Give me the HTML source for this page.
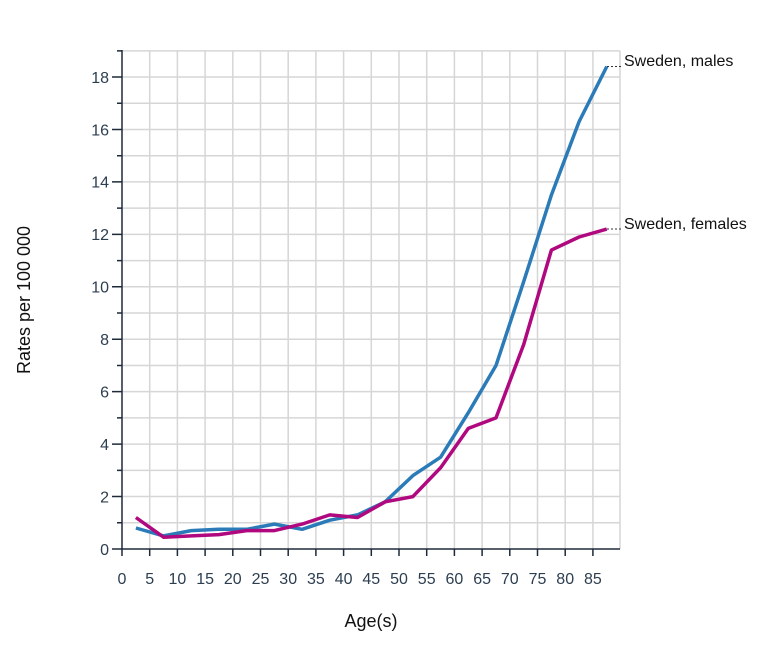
<!DOCTYPE html><html><head><style>body{margin:0;background:#fff}svg text{font-family:"Liberation Sans",sans-serif}</style></head><body>
<svg width="768" height="647" xmlns="http://www.w3.org/2000/svg">
<path stroke="#d6d6d6" stroke-width="1.5" fill="none" d="M122 522.78H620M122 496.56H620M122 470.34H620M122 444.12H620M122 417.9H620M122 391.68H620M122 365.46H620M122 339.24H620M122 313.02H620M122 286.8H620M122 260.58H620M122 234.36H620M122 208.14H620M122 181.92H620M122 155.7H620M122 129.48H620M122 103.26H620M122 77.04H620M122 50.82H620M149.7 51V549M177.4 51V549M205.1 51V549M232.8 51V549M260.5 51V549M288.2 51V549M315.9 51V549M343.6 51V549M371.3 51V549M399 51V549M426.7 51V549M454.4 51V549M482.1 51V549M509.8 51V549M537.5 51V549M565.2 51V549M592.9 51V549M620 51V549"/>
<path stroke="#1e2a3a" stroke-width="1.5" fill="none" d="M122 50V549H620M112 549H122M117 522.78H122M112 496.56H122M117 470.34H122M112 444.12H122M117 417.9H122M112 391.68H122M117 365.46H122M112 339.24H122M117 313.02H122M112 286.8H122M117 260.58H122M112 234.36H122M117 208.14H122M112 181.92H122M117 155.7H122M112 129.48H122M117 103.26H122M112 77.04H122M117 50.82H122M122 549V556M149.7 549V556M177.4 549V556M205.1 549V556M232.8 549V556M260.5 549V556M288.2 549V556M315.9 549V556M343.6 549V556M371.3 549V556M399 549V556M426.7 549V556M454.4 549V556M482.1 549V556M509.8 549V556M537.5 549V556M565.2 549V556M592.9 549V556"/>
<g fill="#2c3e50" font-size="16" text-anchor="end">
<text x="109" y="555">0</text><text x="109" y="502.4">2</text><text x="109" y="450">4</text><text x="109" y="397.5">6</text><text x="109" y="345">8</text><text x="109" y="292.6">10</text><text x="109" y="240.2">12</text><text x="109" y="187.7">14</text><text x="109" y="135.3">16</text><text x="109" y="82.8">18</text>
</g>
<g fill="#2c3e50" font-size="16" text-anchor="middle">
<text x="122" y="584">0</text><text x="149.7" y="584">5</text><text x="177.4" y="584">10</text><text x="205.1" y="584">15</text><text x="232.8" y="584">20</text><text x="260.5" y="584">25</text><text x="288.2" y="584">30</text><text x="315.9" y="584">35</text><text x="343.6" y="584">40</text><text x="371.3" y="584">45</text><text x="399" y="584">50</text><text x="426.7" y="584">55</text><text x="454.4" y="584">60</text><text x="482.1" y="584">65</text><text x="509.8" y="584">70</text><text x="537.5" y="584">75</text><text x="565.2" y="584">80</text><text x="592.9" y="584">85</text>
</g>
<polyline fill="none" stroke="#2b7bb9" stroke-width="3.5" stroke-linejoin="round" points="135.9,528 163.6,535.9 191.3,530.6 218.9,529.3 246.7,529.3 274.4,524.1 302.1,529.3 329.8,520.2 357.5,514.9 385.2,501.8 412.9,475.6 440.6,457.2 468.3,412.7 496,365.5 523.7,281.6 551.4,195 579.1,121.6 606.8,66.5"/>
<polyline fill="none" stroke="#b0087f" stroke-width="3.5" stroke-linejoin="round" points="135.9,517.5 163.6,537.2 191.3,535.9 218.9,534.6 246.7,530.6 274.4,530.6 302.1,524.1 329.8,514.9 357.5,517.5 385.2,501.8 412.9,496.6 440.6,467.7 468.3,428.4 496,417.9 523.7,344.5 551.4,250.1 579.1,237 606.8,229.1"/>
<g stroke="#333" stroke-width="1" stroke-dasharray="2,2"><line x1="607" x2="623" y1="66.5" y2="66.5"/><line x1="607" x2="623" y1="229" y2="229"/></g>
<g font-size="16" fill="#111"><text x="624" y="66">Sweden, males</text><text x="624" y="229">Sweden, females</text></g>
<text x="371" y="627" text-anchor="middle" font-size="18" fill="#111">Age(s)</text>
<text transform="translate(30,300) rotate(-90)" text-anchor="middle" font-size="18" fill="#111">Rates per 100 000</text>
</svg></body></html>
